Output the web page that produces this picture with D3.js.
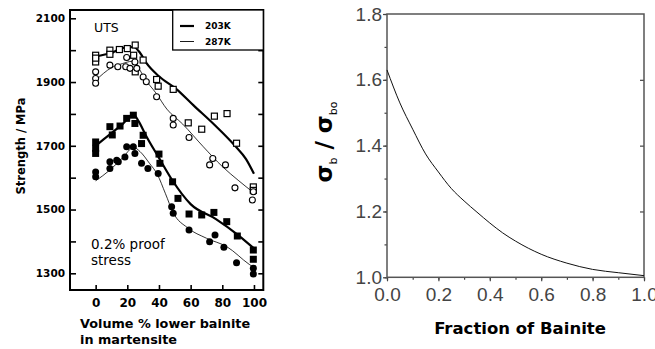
<!DOCTYPE html>
<html lang="en">
<head>
<meta charset="UTF-8">
<title>Strength vs bainite</title>
<script src="https://d3js.org/d3.v7.min.js"></script>
<style>
  body {margin: 0; background: #fff}
  svg {display: block}
  .left text {font-family: 'DejaVu Sans', sans-serif; fill: #000}
  .right .tk text {font-family: 'Liberation Sans', Arial, sans-serif; font-size: 19px; fill: #444}
</style>
</head>
<body>
<script>
// ---- left panel data: [vol % lower bainite, strength MPa] ----
const uts203 = [[0,1984],[0,1963],[0,1975],[9,2000],[9,1987],[15,2002],[20,2005],[25,2016],[24,1984],
                [30,1969],[25,1932],[38.5,1908],[39.5,1887],[49,1877],[58.5,1772],[67,1752],[75,1793],
                [83,1801],[89,1708],[99.6,1571],[99.6,1560]];
const uts287 = [[0,1932],[0,1911],[0,1896],[9,1953],[14,1948],[19,1948],[19.6,1977],[21.7,1943],[24.8,1963],
                [26,1943],[30,1916],[32,1901],[38.5,1854],[49,1786],[49,1765],[59,1726],[74,1660],
                [72,1640],[82,1640],[88,1568],[99.6,1556],[99,1530]];
const proof203 = [[0,1712],[0,1692],[0,1676],[9,1760],[10.5,1734],[15.4,1762],[19.6,1786],[23.8,1796],
                  [24.8,1770],[30,1733],[29,1707],[40,1674],[40.6,1645],[48.6,1587],[52,1535],[59,1486],
                  [67,1483],[74.7,1491],[82.8,1462],[89.5,1417],[99.6,1373],[99.6,1344]];
const proof287 = [[0,1618],[0,1603],[9,1650],[9,1629],[13.3,1655],[14.3,1650],[18.5,1665],[19.6,1697],
                  [23.8,1697],[24.8,1676],[29,1645],[33,1629],[39.5,1613],[48,1509],[49,1488],[59,1436],
                  [72,1399],[75.4,1420],[81,1382],[89,1333],[99.6,1316],[99.6,1298]];
// fitted trend lines
const uts203Fit = [[0,1980],[10,1992],[18,2008],[24,2010],[28,1992],[32,1960],[40,1918],[51,1878],
                   [62,1826],[75,1766],[88,1700],[95,1658],[100,1612]];
const uts287Fit = [[0,1905],[10,1945],[17,1958],[23,1965],[27,1945],[31,1911],[38,1866],[45,1815],
                   [55,1768],[68,1697],[80,1635],[90,1592],[100,1552]];
const proof203Fit = [[0,1700],[10,1740],[17,1768],[24,1798],[27,1778],[32,1730],[40,1662],[48,1595],
                     [60,1517],[76,1470],[90,1420],[100,1378]];
const proof287Fit = [[0,1590],[9,1624],[17,1662],[24,1695],[28,1682],[34,1645],[39,1610],[44,1551],
                     [49,1490],[58,1443],[70,1410],[83,1383],[97,1328],[100,1318]];
const leftYTicks = [1300,1400,1500,1600,1700,1800,1900,2000,2100];
const leftXTicks = [0,20,40,60,80,100];
const legendLabels = ["203K","287K"];

// ---- right panel data: fraction of bainite vs sigma_b / sigma_bo ----
const fracB = [0,0.05,0.1,0.15,0.2,0.25,0.3,0.35,0.4,0.45,0.5,0.6,0.7,0.8,0.9,1.0];
const ratio = [1.63,1.53,1.45,1.375,1.32,1.27,1.232,1.198,1.165,1.135,1.11,1.07,1.043,1.024,1.014,1.005];
const rightXTicks = [0,0.2,0.4,0.6,0.8,1.0];
const rightYTicks = [1.0,1.2,1.4,1.6,1.8];

const width = 655, height = 349;
const svg = d3.select("body").append("svg").attr("width", width).attr("height", height);

// ================= left panel =================
const L = svg.append("g").attr("class", "left");
const x = d3.scaleLinear().domain([-16.2, 105.9]).range([70, 263.3]);
const y = d3.scaleLinear().domain([1247.6, 2126]).range([290, 10]);

L.append("g").attr("transform", "translate(70,0)")
  .call(d3.axisLeft(y).tickValues(leftYTicks).tickSize(-6).tickPadding(5)
        .tickFormat(d => (d % 200 == 100) ? d : ""))
  .call(g => g.select(".domain").remove())
  .call(g => g.selectAll("line").attr("stroke-width", 1.6))
  .call(g => g.selectAll("text").attr("font-size", 10.5).attr("font-weight", "bold")
              .attr("font-family", "'DejaVu Sans', sans-serif").attr("fill", "#000"));
L.append("g").attr("transform", "translate(263.3,0)")
  .call(d3.axisRight(y).tickValues(leftYTicks).tickSize(-5).tickFormat(""))
  .call(g => g.select(".domain").remove())
  .call(g => g.selectAll("line").attr("stroke-width", 1.6));
L.append("g").attr("transform", "translate(0,290)")
  .call(d3.axisBottom(x).tickValues(leftXTicks).tickSize(-5).tickPadding(8))
  .call(g => g.select(".domain").remove())
  .call(g => g.selectAll("line").attr("stroke-width", 1.6))
  .call(g => g.selectAll("text").attr("font-size", 12).attr("font-weight", "bold")
              .attr("font-family", "'DejaVu Sans', sans-serif").attr("fill", "#000"));

L.append("rect").attr("x", 70).attr("y", 10).attr("width", 193.3).attr("height", 280)
  .attr("fill", "none").attr("stroke", "#000").attr("stroke-width", 2);

const line = d3.line().x(d => x(d[0])).y(d => y(d[1])).curve(d3.curveMonotoneX);
[[uts203Fit, 2.2], [proof203Fit, 2.2], [uts287Fit, 0.8], [proof287Fit, 0.8]].forEach(([d, w]) => {
  L.append("path").attr("d", line(d)).attr("fill", "none").attr("stroke", "#000").attr("stroke-width", w);
});

// markers
L.selectAll("rect.u203").data(uts203).enter().append("rect").attr("class", "u203")
  .attr("x", d => x(d[0]) - 3).attr("y", d => y(d[1]) - 3).attr("width", 6).attr("height", 6)
  .attr("fill", "#fff").attr("stroke", "#000").attr("stroke-width", 1.2);
L.selectAll("circle.u287").data(uts287).enter().append("circle").attr("class", "u287")
  .attr("cx", d => x(d[0])).attr("cy", d => y(d[1])).attr("r", 3)
  .attr("fill", "#fff").attr("stroke", "#000").attr("stroke-width", 1.1);
L.selectAll("rect.p203").data(proof203).enter().append("rect").attr("class", "p203")
  .attr("x", d => x(d[0]) - 3.5).attr("y", d => y(d[1]) - 3.5).attr("width", 7).attr("height", 7)
  .attr("fill", "#000");
L.selectAll("circle.p287").data(proof287).enter().append("circle").attr("class", "p287")
  .attr("cx", d => x(d[0])).attr("cy", d => y(d[1])).attr("r", 3.5).attr("fill", "#000");

// legend
L.append("rect").attr("x", 172.7).attr("y", 10).attr("width", 90.6).attr("height", 40)
  .attr("fill", "#fff").attr("stroke", "#000").attr("stroke-width", 1.3);
legendLabels.forEach((t, i) => {
  const ly = 26 + i * 15.5;
  L.append("line").attr("x1", 180).attr("x2", 194).attr("y1", ly).attr("y2", ly)
    .attr("stroke", "#000").attr("stroke-width", i == 0 ? 2.2 : 0.9);
  L.append("text").attr("x", 205).attr("y", ly + 3.3).attr("font-size", 9).attr("font-weight", "bold").text(t);
});

L.append("text").attr("x", 94).attr("y", 31.5).attr("font-size", 12.5).text("UTS");
L.append("text").attr("x", 91).attr("y", 249).attr("font-size", 13.5).text("0.2% proof");
L.append("text").attr("x", 91).attr("y", 265).attr("font-size", 13.5).text("stress");
L.append("text").attr("x", 80).attr("y", 328).attr("font-size", 12.8).attr("font-weight", "bold")
  .text("Volume % lower bainite");
L.append("text").attr("x", 80).attr("y", 344).attr("font-size", 12.8).attr("font-weight", "bold")
  .text("in martensite");
L.append("text").attr("transform", "translate(25,146) rotate(-90)").attr("text-anchor", "middle")
  .attr("font-size", 11.5).attr("font-weight", "bold").text("Strength / MPa");

// ================= right panel =================
const R = svg.append("g").attr("class", "right");
const rx = d3.scaleLinear().domain([0, 1]).range([387, 644]);
const ry = d3.scaleLinear().domain([1, 1.8]).range([277.3, 14]);

R.append("g").attr("class", "tk").attr("transform", "translate(387,0)")
  .call(d3.axisLeft(ry).tickValues(d3.range(1, 1.81, 0.1)).tickSize(2.5).tickFormat(""))
  .call(g => g.select(".domain").remove());
R.append("g").attr("class", "tk").attr("transform", "translate(387,0)")
  .call(d3.axisLeft(ry).tickValues(rightYTicks).tickSize(4).tickPadding(1).tickFormat(d3.format(".1f")))
  .call(g => g.select(".domain").remove());
R.append("g").attr("class", "tk").attr("transform", "translate(0,277.3)")
  .call(d3.axisBottom(rx).tickValues(d3.range(0, 1.01, 0.1)).tickSize(2.5).tickFormat(""))
  .call(g => g.select(".domain").remove());
R.append("g").attr("class", "tk").attr("transform", "translate(0,277.3)")
  .call(d3.axisBottom(rx).tickValues(rightXTicks).tickSize(4).tickPadding(6).tickFormat(d3.format(".1f")))
  .call(g => g.select(".domain").remove());
R.append("g").attr("class", "tk").attr("transform", "translate(644,0)")
  .call(d3.axisRight(ry).tickValues(rightYTicks.slice(1, -1)).tickSize(-4).tickFormat(""))
  .call(g => g.select(".domain").remove());
R.selectAll(".tk line").attr("stroke", "#444").attr("stroke-width", 1.2);

R.append("rect").attr("x", 387).attr("y", 14).attr("width", 257).attr("height", 263.3)
  .attr("fill", "none").attr("stroke", "#555").attr("stroke-width", 1.5);

R.append("path")
  .attr("d", d3.line().x((d, i) => rx(fracB[i])).y(d => ry(d)).curve(d3.curveMonotoneX)(ratio))
  .attr("fill", "none").attr("stroke", "#111").attr("stroke-width", 1);

R.append("text").attr("x", 520).attr("y", 334).attr("text-anchor", "middle")
  .attr("font-family", "'DejaVu Sans', sans-serif").attr("font-size", 16.5).attr("font-weight", "bold")
  .text("Fraction of Bainite");

const yl = R.append("text").attr("transform", "translate(332,142) rotate(-90)").attr("text-anchor", "middle")
  .attr("font-family", "'DejaVu Sans', sans-serif").attr("font-size", 23).attr("font-weight", "bold");
yl.append("tspan").text("σ");
yl.append("tspan").attr("font-size", 11).attr("font-weight", "normal").attr("dy", 5).text("b");
yl.append("tspan").attr("dy", -5).text(" / σ");
yl.append("tspan").attr("font-size", 11).attr("font-weight", "normal").attr("dy", 5).text("bo");
</script>
</body>
</html>
